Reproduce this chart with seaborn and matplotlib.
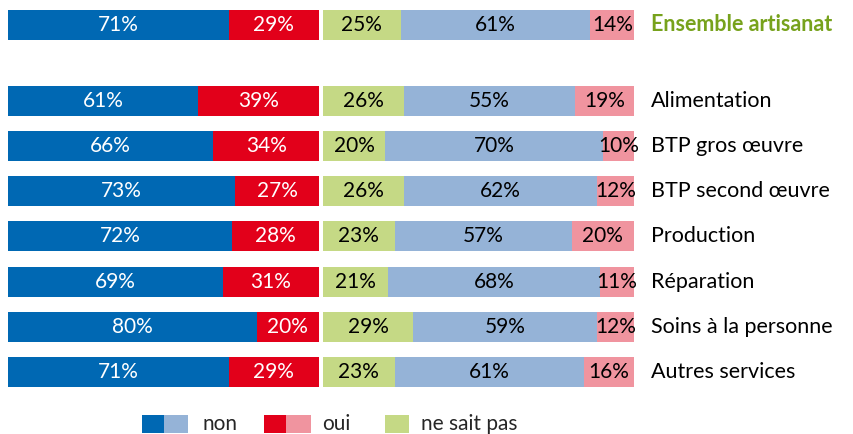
import numpy as np
import pandas as pd
import matplotlib.pyplot as plt
import seaborn as sns
from matplotlib.patches import Rectangle

categories = ["Ensemble artisanat", "Alimentation", "BTP gros œuvre", "BTP second œuvre",
              "Production", "Réparation", "Soins à la personne", "Autres services"]
# left panel: non / oui
left_non = [71, 61, 66, 73, 72, 69, 80, 71]
left_oui = [29, 39, 34, 27, 28, 31, 20, 29]
# right panel: ne sait pas / non / oui
right_nsp = [25, 26, 20, 26, 23, 21, 29, 23]
right_non = [61, 55, 70, 62, 57, 68, 59, 61]
right_oui = [14, 19, 10, 12, 20, 11, 12, 16]

C_NON_D = "#0068b3"
C_OUI_D = "#e2001a"
C_NSP = "#c5d985"
C_NON_L = "#95b3d7"
C_OUI_L = "#f0949f"
C_TITLE = "#77a21c"

sns.set_theme(style="white")
plt.rcParams["font.family"] = ["Lato", "DejaVu Sans"]

W, H = 854, 434
fig = plt.figure(figsize=(W / 100, H / 100), dpi=100)
ax = fig.add_axes([8 / W, 34 / H, (634 - 8) / W, (434 - 34) / H])

pos = np.array([0] + [1.68 + i for i in range(7)])
off = 101.3
bar_w = 0.664

df = pd.DataFrame({
    "pos": pos,
    "non": left_non, "oui": left_oui,
    "nsp": right_nsp, "non_r": right_non, "oui_r": right_oui,
})
df["r3"] = off + df["nsp"] + df["non_r"] + df["oui_r"]
df["r2"] = off + df["nsp"] + df["non_r"]
df["r1"] = off + df["nsp"]
df["r0"] = off
df["l2"] = df["non"] + df["oui"]
df["l1"] = df["non"]

# stacked bars drawn back to front as cumulative totals
layers = [("r3", C_OUI_L), ("r2", C_NON_L), ("r1", C_NSP), ("r0", "white"),
          ("l2", C_OUI_D), ("l1", C_NON_D)]
for col, color in layers:
    sns.barplot(data=df, x=col, y="pos", orient="h", native_scale=True,
                width=bar_w, color=color, saturation=1, linewidth=0, ax=ax)

ax.set_xlim(0, 201.3)
ax.set_ylim(8.30, -0.553)
ax.axis("off")

fs_pct = 15
fs_lab = 15.5
for i, p in enumerate(pos):
    ax.text(left_non[i] / 2, p, f"{left_non[i]}%", ha="center", va="center",
            color="white", fontsize=fs_pct)
    ax.text(left_non[i] + left_oui[i] / 2, p, f"{left_oui[i]}%", ha="center",
            va="center", color="white", fontsize=fs_pct)
    x0 = off
    for v in (right_nsp[i], right_non[i], right_oui[i]):
        ax.text(x0 + v / 2, p, f"{v}%", ha="center", va="center",
                color="black", fontsize=fs_pct)
        x0 += v
    if i == 0:
        ax.text(206.7, p, categories[i], ha="left", va="center", fontsize=fs_lab,
                fontweight="bold", color=C_TITLE, clip_on=False)
    else:
        ax.text(206.7, p, categories[i], ha="left", va="center", fontsize=fs_lab,
                color="black", clip_on=False)

# legend drawn by hand in pixel coordinates
def patch(x0, x1, color):
    fig.add_artist(Rectangle((x0 / W, 1 - 433 / H), (x1 - x0) / W, 18 / H,
                             transform=fig.transFigure, color=color, lw=0))

patch(142, 164, C_NON_D)
patch(164, 188, C_NON_L)
patch(264, 286, C_OUI_D)
patch(286, 311, C_OUI_L)
patch(385, 409, C_NSP)
for x, t in [(203, "non"), (322, "oui"), (421, "ne sait pas")]:
    fig.text(x / W, 1 - 424 / H, t, ha="left", va="center", fontsize=15)

fig.savefig("out.png", dpi=100)
